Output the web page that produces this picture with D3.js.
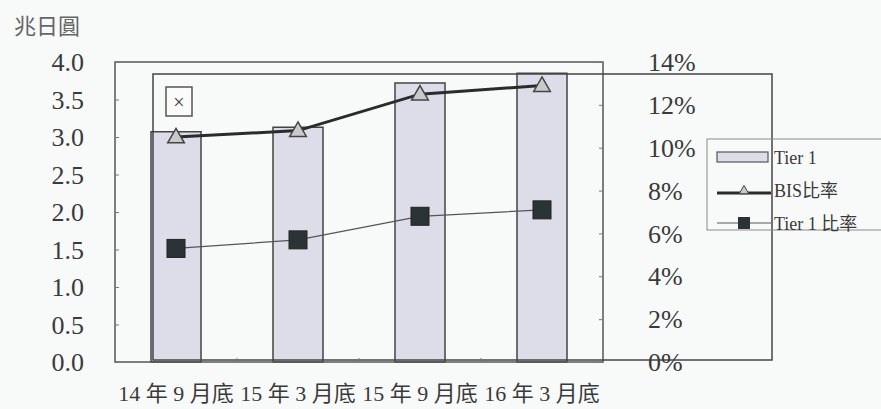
<!DOCTYPE html>
<html>
    <head>
        <title>Tier 1 / BIS</title>
        <meta charset="UTF-8">
        <style>
            body {margin:0; background:#f8fafa;}
            text {font-family:"Liberation Serif","Noto Sans CJK TC",serif; fill:#3a3a3a;}
            .unit {font-family:"Noto Sans CJK TC",sans-serif; fill:#666; font-size:22px;}
        </style>
        <script src="https://cdn.jsdelivr.net/npm/d3@7"></script>
    </head>
    <body>
        <svg width="881" height="409"></svg>
        <script>
            var categories = ["14 年 9 月底", "15 年 3 月底", "15 年 9 月底", "16 年 3 月底"];
            var tier1 = [3.07, 3.13, 3.72, 3.85];          // 兆日圓
            var bisRatio = [10.5, 10.8, 12.5, 12.9];       // %
            var tier1Ratio = [5.3, 5.7, 6.8, 7.1];         // %
            var leftTicks = [0, 0.5, 1, 1.5, 2, 2.5, 3, 3.5, 4];
            var rightTicks = [0, 2, 4, 6, 8, 10, 12, 14];

            var svg = d3.select("svg");
            var x = d3.scaleBand().domain(categories).range([115, 603]).paddingInner(0.59).paddingOuter(0.295);
            var yL = d3.scaleLinear().domain([0, 4]).range([362, 62]);
            var yR = d3.scaleLinear().domain([0, 14]).range([362, 62]);
            var cx = d => x(d) + x.bandwidth() / 2;

            svg.append("text").attr("class", "unit").attr("x", 14).attr("y", 34).text("兆日圓");

            //... bars
            svg.append("g").selectAll("rect").data(categories).enter().append("rect")
                .attr("x", d => x(d)).attr("width", x.bandwidth())
                .attr("y", (d, i) => yL(tier1[i])).attr("height", (d, i) => yL(0) - yL(tier1[i]))
                .style("fill", "#dcdde8").style("stroke", "#444").style("stroke-width", 1.5);

            //... frames
            svg.append("rect").attr("x", 115).attr("y", 62).attr("width", 488).attr("height", 300)
                .style("fill", "none").style("stroke", "#555").style("stroke-width", 1.5);
            svg.append("rect").attr("x", 153).attr("y", 74).attr("width", 619).attr("height", 286)
                .style("fill", "none").style("stroke", "#444").style("stroke-width", 1.5);

            //... axes
            var gl = svg.append("g").attr("transform", "translate(115,0)")
                .call(d3.axisRight(yL).tickValues(leftTicks).tickSize(4).tickFormat(""));
            gl.select(".domain").remove();
            gl.selectAll("line").style("stroke", "#777");
            svg.append("g").selectAll("text").data(leftTicks).enter().append("text")
                .attr("x", 84).attr("y", d => yL(d)).attr("dy", "0.35em").attr("text-anchor", "end")
                .style("font-size", "26px").text(d => d.toFixed(1));

            var gr = svg.append("g").attr("transform", "translate(603,0)")
                .call(d3.axisLeft(yR).tickValues(rightTicks).tickSize(4).tickFormat(""));
            gr.select(".domain").remove();
            gr.selectAll("line").style("stroke", "#777");
            svg.append("g").selectAll("text").data(rightTicks).enter().append("text")
                .attr("x", 648).attr("y", d => yR(d)).attr("dy", "0.35em")
                .style("font-size", "26px").text(d => d + "%");

            svg.append("g").selectAll("line").data(categories.slice(1)).enter().append("line")
                .attr("x1", d => x(d) - x.step() * 0.295).attr("x2", d => x(d) - x.step() * 0.295)
                .attr("y1", 362).attr("y2", 358).style("stroke", "#777");
            svg.append("g").selectAll("text").data(categories).enter().append("text")
                .attr("x", cx).attr("y", 401).attr("text-anchor", "middle")
                .style("font-size", "22px").text(d => d);

            //... lines
            var ratioLine = d3.line().x((d, i) => cx(categories[i])).y(d => yR(d));
            svg.append("path").attr("d", ratioLine(bisRatio))
                .style("fill", "none").style("stroke", "#2b2b2b").style("stroke-width", 3);
            svg.append("path").attr("d", ratioLine(tier1Ratio))
                .style("fill", "none").style("stroke", "#555").style("stroke-width", 1.3);

            var tri = d3.symbol().type(d3.symbolTriangle).size(120);
            svg.append("g").selectAll("path").data(bisRatio).enter().append("path")
                .attr("d", tri).attr("transform", (d, i) => "translate(" + cx(categories[i]) + "," + (yR(d) + 1) + ")")
                .style("fill", "#c9c9cc").style("stroke", "#444").style("stroke-width", 1.5);
            svg.append("g").selectAll("rect").data(tier1Ratio).enter().append("rect")
                .attr("x", (d, i) => cx(categories[i]) - 9).attr("y", d => yR(d) - 9)
                .attr("width", 18).attr("height", 18)
                .style("fill", "#2b3336").style("stroke", "#222");

            //... the little x box
            svg.append("rect").attr("x", 166).attr("y", 87).attr("width", 26).attr("height", 29)
                .style("fill", "#fbfbfb").style("stroke", "#555").style("stroke-width", 1.5);
            svg.append("text").attr("x", 179).attr("y", 102).attr("dy", "0.35em").attr("text-anchor", "middle")
                .style("font-size", "20px").text("×");

            //... legend
            var lg = svg.append("g");
            lg.append("rect").attr("x", 707).attr("y", 139).attr("width", 190).attr("height", 91)
                .style("fill", "none").style("stroke", "#888");
            lg.append("rect").attr("x", 717).attr("y", 152).attr("width", 51).attr("height", 10)
                .style("fill", "#dcdde8").style("stroke", "#555").style("stroke-width", 1.2);
            lg.append("line").attr("x1", 717).attr("x2", 771).attr("y1", 193).attr("y2", 193)
                .style("stroke", "#2b2b2b").style("stroke-width", 3);
            lg.append("path").attr("d", d3.symbol().type(d3.symbolTriangle).size(40))
                .attr("transform", "translate(744,191)")
                .style("fill", "#c9c9cc").style("stroke", "#444");
            lg.append("line").attr("x1", 717).attr("x2", 771).attr("y1", 223).attr("y2", 223)
                .style("stroke", "#555").style("stroke-width", 1.2);
            lg.append("rect").attr("x", 738).attr("y", 217).attr("width", 12).attr("height", 12)
                .style("fill", "#2b3336");
            var legendText = ["Tier 1", "BIS比率", "Tier 1 比率"];
            lg.selectAll("text").data(legendText).enter().append("text")
                .attr("x", 774).attr("y", (d, i) => 158 + i * 33).attr("dy", "0.35em")
                .style("font-size", "18px").text(d => d);
        </script>
    </body>
</html>
